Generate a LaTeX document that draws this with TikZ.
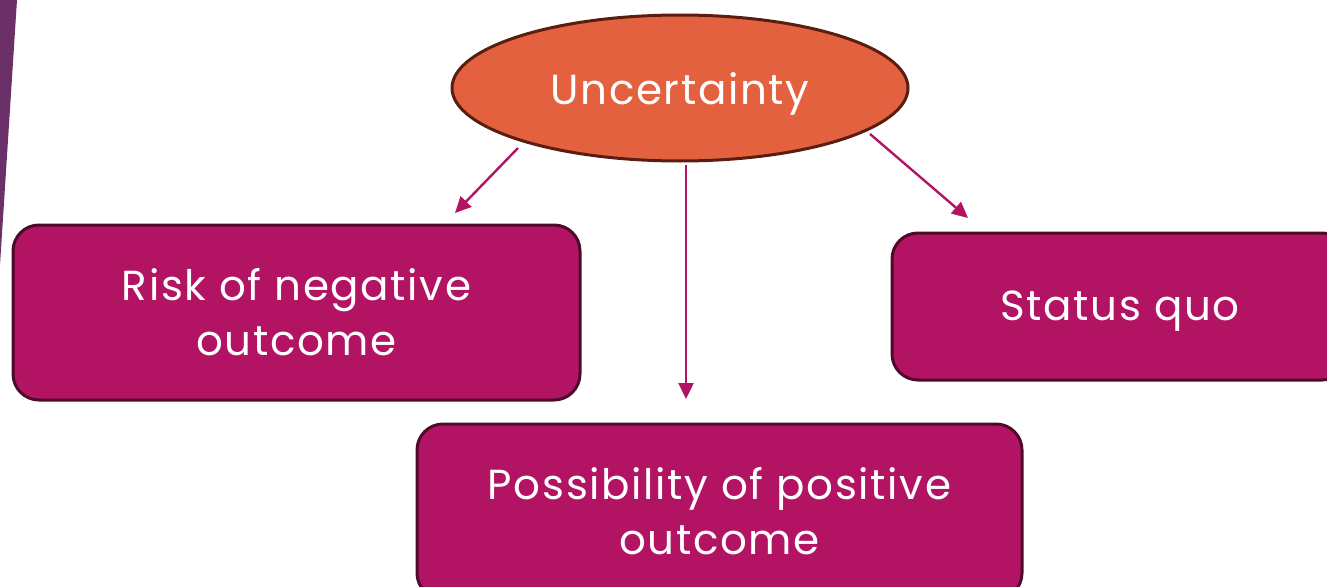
\documentclass[tikz,border=0pt]{standalone}
\usepackage{fontspec}
\setmainfont{Poppins}[LetterSpace=4]
\usetikzlibrary{shapes.geometric,arrows.meta,calc}
\definecolor{boxfill}{HTML}{B31363}
\definecolor{boxline}{HTML}{4D0A2A}
\definecolor{ellfill}{HTML}{E3613E}
\definecolor{ellline}{HTML}{5A1E10}
\definecolor{strip}{HTML}{6B3068}
\newcommand{\lowr}[2]{\raisebox{-#1}[\height][\depth]{#2}}
\tikzset{
  rbox/.style={draw=boxline, line width=3pt, fill=boxfill, rounded corners=26pt,
    text=white, align=center, inner sep=0pt, font=\fontsize{42}{55}\selectfont},
  ell/.style={ellipse, draw=ellline, line width=3pt, fill=ellfill, text=white,
    inner sep=0pt, font=\fontsize{42}{55}\selectfont},
  arr/.style={draw=boxfill, line width=2.4pt, -{Triangle[length=16pt,width=15pt]}}
}
\begin{document}
\begin{tikzpicture}[x=1pt,y=-1pt]
\useasboundingbox (0,0) rectangle (1327,586);
\clip (0,0) rectangle (1327,586);
\fill[strip] (0,0) -- (17,0) -- (0,265) -- cycle;
\node[ell, minimum width=456pt, minimum height=146pt] (U) at (680,88) {\lowr{6pt}{Uncertainty}};
\node[rbox, minimum width=567pt, minimum height=175pt] (L) at (296.5,312.5) {Risk of negative\\outcome};
\node[rbox, minimum width=456pt, minimum height=147pt] (S) at (1120,306.5) {\lowr{5pt}{Status quo}};
\node[rbox, minimum width=605pt, minimum height=175pt] (P) at (719.5,511.5) {Possibility of positive\\outcome};
\coordinate (s1) at (518,148);
\coordinate (s2) at (686,165);
\coordinate (s3) at (870,134);
\coordinate (e1) at (455,213);
\coordinate (e2) at (686,399);
\coordinate (e3) at (968,218);
\draw[arr] (s1) -- (e1);
\draw[arr] (s2) -- (e2);
\draw[arr] (s3) -- (e3);
\end{tikzpicture}
\end{document}
